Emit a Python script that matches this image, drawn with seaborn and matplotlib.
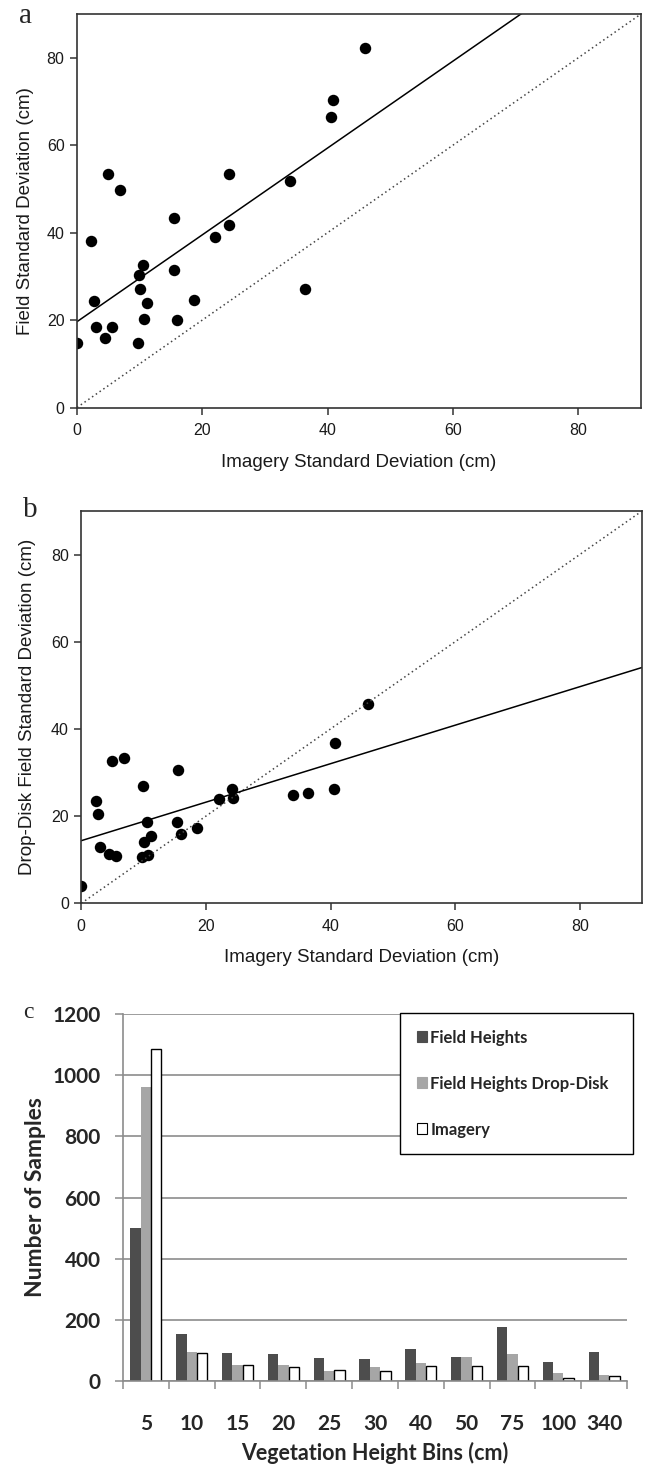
import numpy as np
import pandas as pd
import matplotlib
matplotlib.use('Agg')
import matplotlib.pyplot as plt
from matplotlib.patches import Patch
import seaborn as sns

# ---- data ----
# imagery SD is shared by panels a and b (same plots)
imagery_sd = [0.0, 2.3, 2.7, 3.0, 4.5, 5.0, 5.6, 6.8, 9.8, 9.9, 10.0, 10.5, 10.7, 11.2,
              15.4, 15.5, 16.0, 18.6, 22.1, 24.2, 24.3, 34.0, 36.4, 40.6, 40.8, 46.0]
field_sd = [14.8, 38.1, 24.4, 18.4, 16.0, 53.3, 18.3, 49.8, 14.8, 30.2, 27.2, 32.5, 20.3, 24.0,
            31.5, 43.4, 20.0, 24.6, 39.0, 53.3, 41.7, 51.7, 27.0, 66.5, 70.4, 82.2]
dropdisk_sd = [4.0, 23.4, 20.4, 13.0, 11.3, 32.7, 10.8, 33.4, 10.7, 27.0, 14.1, 18.6, 11.1, 15.5,
               18.6, 30.6, 15.9, 17.3, 24.0, 26.3, 24.2, 24.8, 25.2, 26.2, 36.7, 45.8]

height_bins = ['5', '10', '15', '20', '25', '30', '40', '50', '75', '100', '340']
series_names = ['Field Heights', 'Field Heights Drop-Disk', 'Imagery']
field_counts = [501, 155, 91, 87, 75, 71, 103, 78, 175, 63, 94]
dropdisk_counts = [960, 95, 51, 53, 33, 46, 58, 78, 87, 25, 21]
imagery_counts = [1084, 90, 53, 45, 37, 32, 49, 49, 49, 11, 16]
bar_colors = ['#4d4d4d', '#a6a6a6', '#ffffff']

sns.set_style("ticks")
plt.rcParams['font.family'] = ['Liberation Sans', 'DejaVu Sans']

W, H = 651, 1468
fig = plt.figure(figsize=(W / 100, H / 100), dpi=100)


def px_axes(left, top, right, bottom):
    return fig.add_axes([left / W, 1 - bottom / H, (right - left) / W, (bottom - top) / H])


def scatter_panel(ax, y, ylabel):
    ax.set_xlim(0, 90)
    ax.set_ylim(0, 90)
    ax.axline((0, 0), slope=1, color='#444444', lw=1.1, ls=(0, (1, 2)))
    sns.regplot(x=imagery_sd, y=y, ax=ax, ci=None, truncate=False,
                scatter_kws=dict(s=68, color='black', linewidths=0, alpha=1),
                line_kws=dict(color='black', lw=1.1))
    ax.set_xlim(0, 90)
    ax.set_ylim(0, 90)
    ax.set_xticks([0, 20, 40, 60, 80])
    ax.set_yticks([0, 20, 40, 60, 80])
    for s in ax.spines.values():
        s.set_visible(True)
        s.set_color('#333333')
        s.set_linewidth(1.2)
    ax.tick_params(axis='both', direction='out', length=5, width=1.1, color='#333333',
                   labelsize=11.5, labelcolor='#1a1a1a')
    ax.tick_params(axis='x', pad=6)
    ax.tick_params(axis='y', pad=4)
    ax.set_xlabel('Imagery Standard Deviation (cm)', fontsize=13.5, color='#1a1a1a')
    ax.set_ylabel(ylabel, fontsize=13.5, color='#1a1a1a')
    ax.xaxis.label.set_verticalalignment('center')
    ax.yaxis.label.set_verticalalignment('center')


# ---- panel a ----
axa = px_axes(77, 14, 641, 407.5)
scatter_panel(axa, field_sd, 'Field Standard Deviation (cm)')
axa.xaxis.set_label_coords(0.5, -0.141)
axa.yaxis.set_label_coords(-0.092, 0.5)

# ---- panel b ----
axb = px_axes(81.3, 511, 642, 903.3)
scatter_panel(axb, dropdisk_sd, 'Drop-Disk Field Standard Deviation (cm)')
axb.xaxis.set_label_coords(0.5, -0.139)
axb.yaxis.set_label_coords(-0.096, 0.5)

# ---- panel c ----
axc = px_axes(123, 1014, 627, 1381)
bars = pd.DataFrame({
    'bin': height_bins * 3,
    'series': np.repeat(series_names, len(height_bins)),
    'count': field_counts + dropdisk_counts + imagery_counts,
})
sns.barplot(data=bars, x='bin', y='count', hue='series', order=height_bins,
            hue_order=series_names, palette=bar_colors, width=0.68, saturation=1,
            linewidth=0, legend=False, ax=axc)
for p in axc.containers[2]:
    p.set_edgecolor('black')
    p.set_linewidth(1.0)

cfont = ['Lato', 'DejaVu Sans']
axc.set_ylim(0, 1200)
axc.set_xlim(-0.5, len(height_bins) - 0.5)
axc.set_yticks(range(0, 1201, 200))
axc.set_axisbelow(True)
axc.yaxis.grid(True, color='#8c8c8c', lw=1.2)
axc.xaxis.grid(False)
# excel style: ticks between categories, labels centred
axc.set_xticks(np.arange(-0.5, len(height_bins), 1))
axc.set_xticklabels([])
axc.set_xticks(range(len(height_bins)), minor=True)
axc.set_xticklabels(height_bins, minor=True, fontfamily=cfont, fontweight='bold', fontsize=15)
axc.tick_params(axis='x', which='minor', length=0, pad=24)
axc.tick_params(axis='x', which='major', length=6, width=1.1, color='#8c8c8c', direction='out')
axc.tick_params(axis='y', length=6, width=1.1, color='#8c8c8c', direction='out', pad=10)
for lab in axc.get_yticklabels():
    lab.set_fontfamily(cfont)
    lab.set_fontweight('bold')
    lab.set_fontsize(15)
for side in ['top', 'right']:
    axc.spines[side].set_visible(False)
for side in ['left', 'bottom']:
    axc.spines[side].set_color('#8c8c8c')
    axc.spines[side].set_linewidth(1.2)
axc.set_xlabel('Vegetation Height Bins (cm)', fontfamily=cfont, fontweight='bold', fontsize=15.5)
axc.set_ylabel('Number of Samples', fontfamily=cfont, fontweight='bold', fontsize=16.5)
axc.xaxis.label.set_verticalalignment('center')
axc.yaxis.label.set_verticalalignment('center')
axc.xaxis.set_label_coords(0.5, -0.196)
axc.yaxis.set_label_coords(-0.173, 0.5)

handles = [Patch(facecolor=c, edgecolor=('black' if c == '#ffffff' else c), lw=0.8)
           for c in bar_colors]
leg = axc.legend(handles, series_names, loc='upper left', mode='expand',
                 bbox_to_anchor=(0.55, 0.621, 0.462, 0.382), borderaxespad=0,
                 frameon=True, fancybox=False, edgecolor='black', framealpha=1,
                 prop=dict(family=cfont, weight='bold', size=12),
                 handlelength=0.6, handleheight=0.6, handletextpad=0.2,
                 labelspacing=1.8, borderpad=1.0)
leg.get_frame().set_linewidth(1.0)

# panel letters
fig.text(26 / W, 1 - 23 / H, 'a', family='Liberation Serif', fontsize=21, ha='center', va='baseline')
fig.text(30 / W, 1 - 516.7 / H, 'b', family='Liberation Serif', fontsize=21, ha='center', va='baseline')
fig.text(28.5 / W, 1 - 1018 / H, 'c', family='Liberation Serif', fontsize=17, ha='center', va='baseline')

fig.savefig('out.png', dpi=100)
